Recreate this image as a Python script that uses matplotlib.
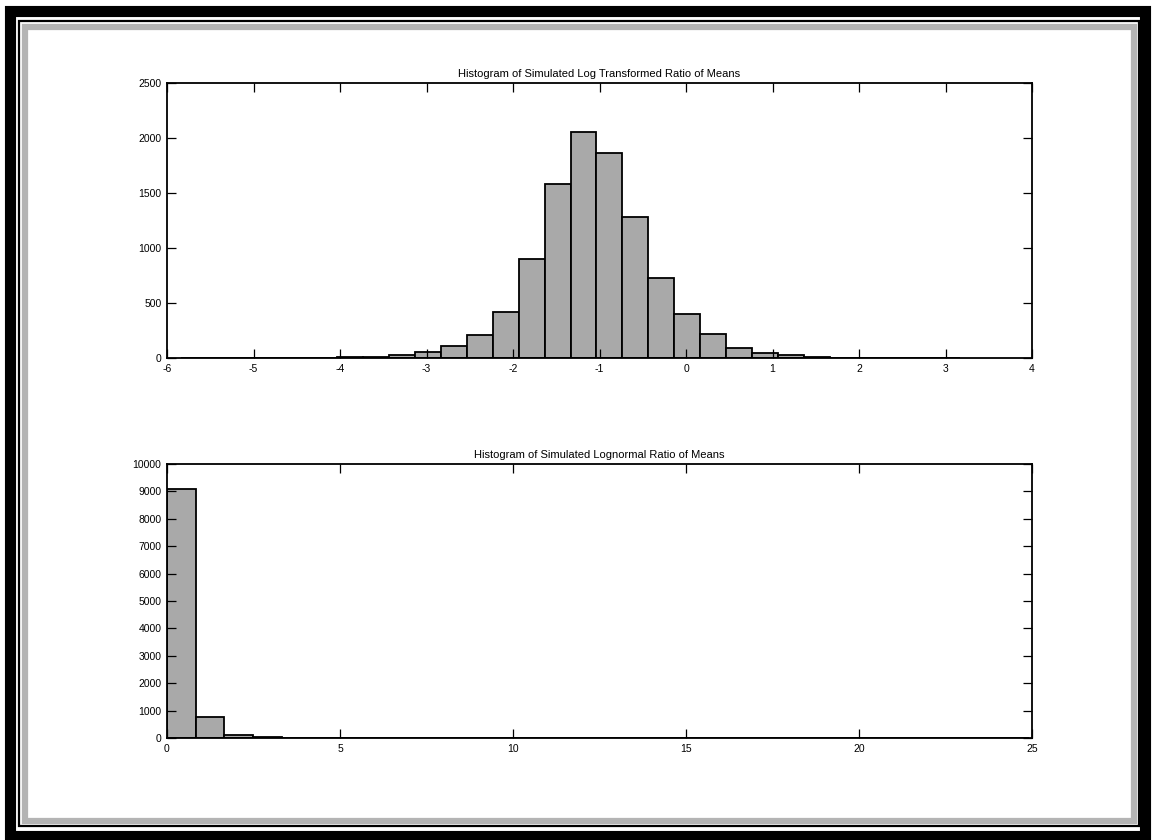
import numpy as np
import matplotlib.pyplot as plt
from matplotlib.patches import Rectangle

plt.rcParams['font.family'] = ['Liberation Sans', 'DejaVu Sans']
plt.rcParams['axes.unicode_minus'] = False

# simulated log(ratio of means): 30 equal-width bins
log_start = -5.835
log_width = 0.3
log_counts = [1, 0, 1, 1, 2, 4, 6, 12, 27, 52, 106, 209, 418, 903, 1579,
              2057, 1866, 1284, 724, 397, 215, 88, 43, 24, 8, 4, 2, 1, 1, 2]

# same samples back-transformed: 30 equal-width bins
ratio_start = 0.0
ratio_width = 0.83
ratio_counts = [9088, 752, 110, 40, 16, 8, 4, 3, 2, 1, 0, 0, 1, 1, 0,
                0, 0, 0, 0, 1, 0, 0, 0, 0, 0, 0, 0, 1, 1, 1]

title_top = 'Histogram of Simulated Log Transformed Ratio of Means'
title_bottom = 'Histogram of Simulated Lognormal Ratio of Means'

W, H = 1153, 840
fig = plt.figure(figsize=(W / 100, H / 100), dpi=100)


def px_rect(x0, y0, x1, y1, **kw):
    # rectangle given in pixel coords measured from the top-left corner
    r = Rectangle((x0 / W, 1 - y1 / H), (x1 - x0) / W, (y1 - y0) / H,
                  transform=fig.transFigure, fill=False, **kw)
    fig.add_artist(r)


# window border
px_rect(10, 11, 1145, 836, edgecolor='black', linewidth=8)
px_rect(19, 21, 1139, 826, edgecolor='black', linewidth=1.6)
px_rect(25, 27, 1134, 821, edgecolor='#b4b4b4', linewidth=4.5)


def draw_hist(ax, start, width, counts):
    edges = start + width * np.arange(len(counts))
    ax.bar(edges, counts, width=width, align='edge', color='#a9a9a9',
           edgecolor='black', linewidth=1.3)


def style(ax, title):
    ax.set_title(title, fontsize=8, pad=4)
    ax.tick_params(direction='in', length=6.5, width=0.9, top=True,
                   right=True, labelsize=7.5, pad=4)
    for s in ax.spines.values():
        s.set_linewidth(1.3)


ax1 = fig.add_axes([167 / W, 1 - 358 / H, 865 / W, 275 / H])
draw_hist(ax1, log_start, log_width, log_counts)
ax1.set_xlim(-6, 4)
ax1.set_ylim(0, 2500)
ax1.set_xticks(np.arange(-6, 5, 1))
ax1.set_yticks(np.arange(0, 2501, 500))
style(ax1, title_top)

ax2 = fig.add_axes([167 / W, 1 - 738 / H, 865 / W, 274 / H])
draw_hist(ax2, ratio_start, ratio_width, ratio_counts)
ax2.set_xlim(0, 25)
ax2.set_ylim(0, 10000)
ax2.set_xticks(np.arange(0, 26, 5))
ax2.set_yticks(np.arange(0, 10001, 1000))
style(ax2, title_bottom)

fig.savefig('out.png', dpi=100)
